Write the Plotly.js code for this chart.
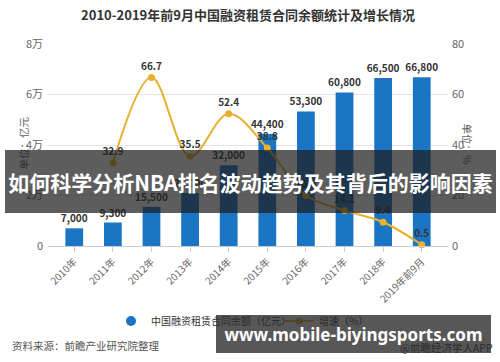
<!DOCTYPE html>
<html>
<head>
<meta charset="utf-8">
<script src="https://cdn.plot.ly/plotly-3.0.1.min.js"></script>
<style>
html,body{margin:0;padding:0;background:#fff;}
#chart{width:500px;height:362px;}
</style>
</head>
<body>
<div id="chart"></div>
<script>
// ---- data ----
const categories = ['2010年','2011年','2012年','2013年','2014年','2015年','2016年','2017年','2018年','2019年前9月'];
const balance = [7000, 9300, 15500, 21000, 32000, 44400, 53300, 60800, 66500, 66800];
const growth = [null, 32.9, 66.7, 35.5, 52.4, 38.8, 20.0, 14.1, 9.4, 0.5];
const yTickVals = [0, 20000, 40000, 60000, 80000];
const yTickText = ['0', '2万', '4万', '6万', '8万'];
const y2TickVals = [0, 20, 40, 60, 80];
const y2TickText = ['0', '20', '40', '60', '80'];
const balanceName = '中国融资租赁合同余额（亿元）';
const growthName = '增速（%）';
const chartTitle = '2010-2019年前9月中国融资租赁合同余额统计及增长情况';
const yTitle = '单位：亿元';
const y2Title = '单位：%';
const sourceText = '资料来源：前瞻产业研究院整理';
const appText = '@前瞻经济学人APP';
const bannerText = '如何科学分析NBA排名波动趋势及其背后的影响因素';
const siteText = 'www.mobile-biyingsports.com';

// ---- style ----
const FONT = 'Noto Sans CJK SC, Noto Sans, sans-serif';
const BLUE = '#1a75c4';
const GOLD = '#e8b030';

const traces = [
  {
    type: 'bar', x: categories, y: balance, name: balanceName, showlegend: false,
    marker: {color: BLUE}, width: 0.46,
    texttemplate: '%{y:,}', textposition: 'outside', cliponaxis: false, constraintext: 'none',
    textfont: {family: FONT, size: 10, color: '#333', weight: 'bold'},
    hoverinfo: 'none'
  },
  {
    type: 'scatter', x: [null], y: [null], name: balanceName, mode: 'markers', legend: 'legend',
    marker: {color: BLUE, size: 10, symbol: 'circle'}, hoverinfo: 'none'
  },
  {
    type: 'scatter', x: categories, y: growth, name: growthName, yaxis: 'y2', legend: 'legend2',
    mode: 'lines+markers+text', line: {color: GOLD, width: 2, shape: 'spline', smoothing: 1},
    marker: {color: GOLD, size: 7},
    texttemplate: '%{y:.1f}', textposition: 'top center', cliponaxis: false,
    textfont: {family: FONT, size: 10, color: '#333', weight: 'bold'},
    hoverinfo: 'none'
  }
];

const legendBase = {orientation: 'h', yanchor: 'middle', y: -0.371, xanchor: 'left',
  font: {family: FONT, size: 10, color: '#333'}, bgcolor: 'rgba(0,0,0,0)', itemwidth: 30};

const layout = {
  width: 500, height: 362,
  margin: {l: 48, r: 52, t: 44, b: 116},
  paper_bgcolor: '#fff', plot_bgcolor: '#fff',
  font: {family: FONT, color: '#666', size: 11},
  title: {text: '<b>' + chartTitle + '</b>', x: 0.496, xanchor: 'center', y: 0.956, yanchor: 'middle',
          font: {family: FONT, size: 13, color: '#333'}},
  showlegend: true,
  legend: Object.assign({}, legendBase, {x: 0.1575}),
  legend2: Object.assign({}, legendBase, {x: 0.5775}),
  xaxis: {
    type: 'category', range: [-0.68, 9.68], showgrid: false,
    showline: true, linecolor: '#cccccc', linewidth: 1,
    ticks: 'outside', ticklen: 5, tickcolor: '#cccccc', tickangle: -45,
    tickfont: {family: FONT, size: 10, color: '#666'}, fixedrange: true
  },
  yaxis: {
    range: [0, 80000], tickvals: yTickVals, ticktext: yTickText,
    showgrid: true, gridcolor: '#e5e5e5', zeroline: false, showline: false,
    ticklabelstandoff: 4,
    tickfont: {family: FONT, size: 11, color: '#666'}, fixedrange: true
  },
  yaxis2: {
    range: [0, 80], overlaying: 'y', side: 'right', tickvals: y2TickVals, ticktext: y2TickText,
    showgrid: false, zeroline: false, showline: false,
    ticklabelstandoff: 3,
    tickfont: {family: FONT, size: 11, color: '#666'}, fixedrange: true
  },
  annotations: [
    {text: yTitle, xref: 'paper', yref: 'paper', x: -0.085, y: 0.51, textangle: -90,
     showarrow: false, font: {family: FONT, size: 10.5, color: '#666'}},
    {text: y2Title, xref: 'paper', yref: 'paper', x: 1.0725, y: 0.505, textangle: 90,
     showarrow: false, font: {family: FONT, size: 10.5, color: '#666'}},
    {text: sourceText, xref: 'paper', yref: 'paper', x: -0.095, xanchor: 'left', y: -0.495, yanchor: 'middle',
     showarrow: false, font: {family: FONT, size: 10.5, color: '#555'}},
    {text: appText, xref: 'paper', yref: 'paper', x: 1.1175, xanchor: 'right', y: -0.5, yanchor: 'middle',
     showarrow: false, font: {family: FONT, size: 10.5, color: '#333'}},
    {text: '<b>' + siteText + '</b>', xref: 'paper', yref: 'paper', x: 0.7638, xanchor: 'center',
     y: -0.4351, yanchor: 'middle', width: 275, height: 38, borderpad: 0, borderwidth: 0,
     bgcolor: 'rgba(40,40,40,0.78)', showarrow: false,
     font: {family: 'Noto Sans, Open Sans, sans-serif', size: 17, color: '#fff'}},
    {text: '<b>' + bannerText + '</b>', xref: 'paper', yref: 'paper', x: 0.5062, xanchor: 'center',
     y: 0.3193, yanchor: 'middle', width: 491, height: 63, borderpad: 0, borderwidth: 0,
     bgcolor: 'rgba(30,30,30,0.72)', showarrow: false,
     font: {family: FONT, size: 21, color: '#fff'}}
  ]
};

Plotly.newPlot('chart', traces, layout, {displayModeBar: false, staticPlot: true});
</script>
</body>
</html>
